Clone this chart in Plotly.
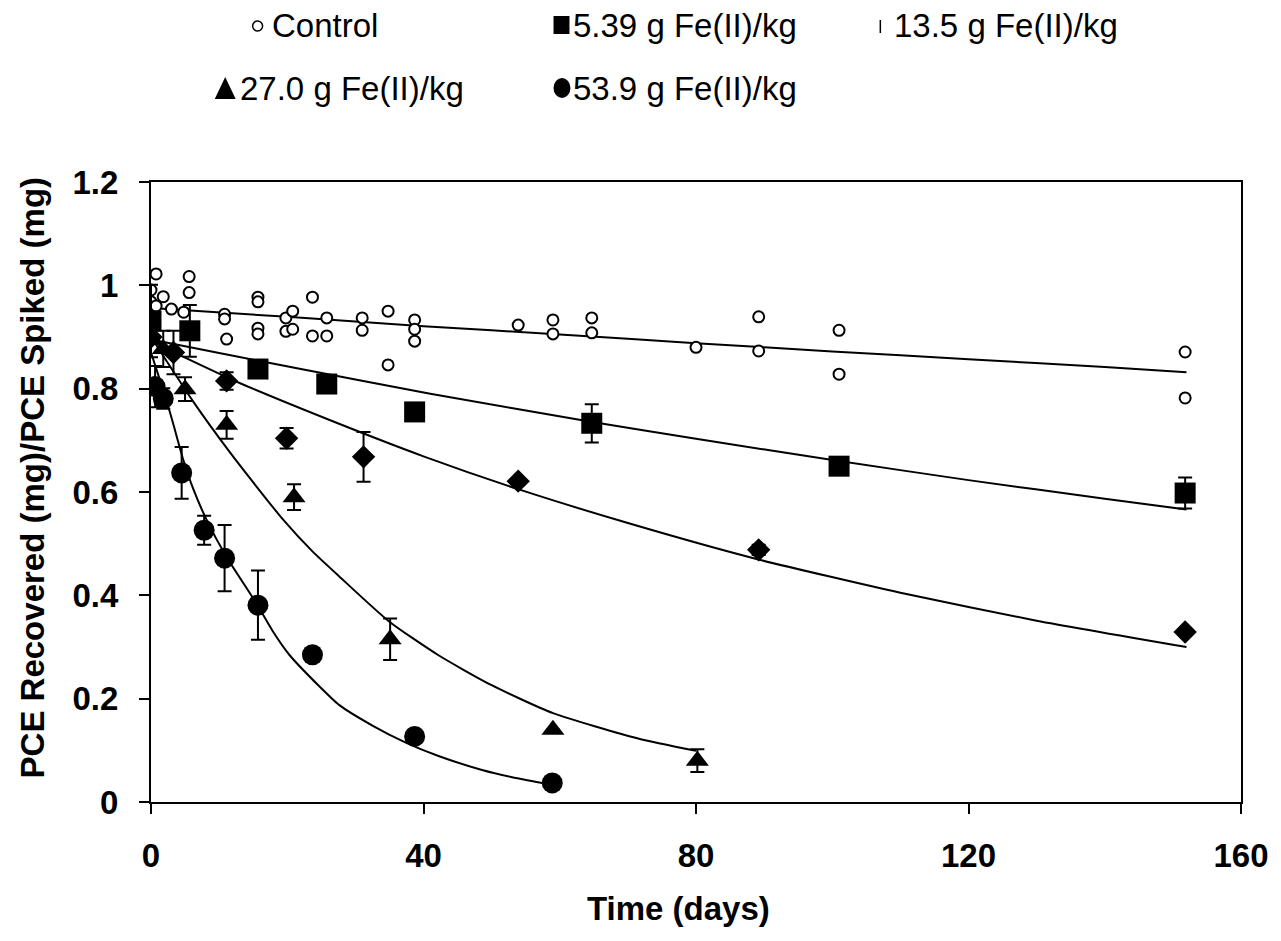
import plotly.graph_objects as go

# ---------------- data ----------------
ctrl_t = [0, 0, 0, 0.75, 0.75, 1.8, 3.0, 4.8, 5.6, 5.6, 10.8, 10.8, 11.1, 15.7, 15.7, 15.7, 15.7,
          19.8, 19.8, 20.8, 20.8, 23.7, 23.7, 25.8, 25.8, 31, 31, 34.8, 34.8, 38.7, 38.7, 38.7,
          53.9, 59, 59, 64.7, 64.7, 80, 89.2, 89.2, 101, 101, 151.8, 151.8]
ctrl_v = [0.991, 0.968, 0.958, 1.022, 0.960, 0.978, 0.954, 0.948, 1.017, 0.986, 0.944, 0.935, 0.896,
          0.977, 0.968, 0.917, 0.906, 0.937, 0.911, 0.950, 0.915, 0.977, 0.902, 0.937, 0.902,
          0.937, 0.913, 0.950, 0.846, 0.933, 0.915, 0.892, 0.923, 0.933, 0.906, 0.937, 0.908,
          0.880, 0.939, 0.873, 0.913, 0.828, 0.871, 0.782]

fe539_t = [0, 5.7, 15.7, 25.8, 38.7, 64.7, 101, 151.8]
fe539_v = [0.931, 0.912, 0.838, 0.809, 0.755, 0.733, 0.650, 0.598]
fe539_e = [0.07, 0.05, 0.012, 0.0, 0.0, 0.037, 0.0, 0.03]

fe135_t = [0, 3.3, 11.1, 19.9, 31.2, 53.9, 89.2, 151.8]
fe135_v = [0.90, 0.870, 0.815, 0.704, 0.668, 0.621, 0.488, 0.329]
fe135_e = [0.0, 0.042, 0.017, 0.02, 0.048, 0.0, 0.01, 0.0]

fe270_t = [0, 1.8, 5.0, 11.1, 21.0, 35.1, 59.0, 80.2]
fe270_v = [0.896, 0.877, 0.799, 0.730, 0.590, 0.315, 0.140, 0.080]
fe270_e = [0.0, 0.035, 0.023, 0.027, 0.025, 0.04, 0.0, 0.022]

fe539b_t = [0.6, 1.8, 4.5, 7.8, 10.8, 15.7, 23.7, 38.7, 58.9]
fe539b_v = [0.804, 0.781, 0.637, 0.526, 0.472, 0.381, 0.285, 0.127, 0.037]
fe539b_e = [0.04, 0.02, 0.05, 0.028, 0.064, 0.067, 0.0, 0.0, 0.0]

# fitted curves
fit_ctrl_t = [0, 20, 40, 60, 80, 100, 120, 140, 152]
fit_ctrl_v = [0.956, 0.939, 0.921, 0.905, 0.888, 0.872, 0.857, 0.842, 0.832]
fit_539_t = [0, 10, 22, 41, 65, 80, 101, 120, 140, 152]
fit_539_v = [0.895, 0.869, 0.838, 0.790, 0.735, 0.703, 0.660, 0.623, 0.587, 0.566]
fit_135_t = [0, 5, 13, 27.6, 40, 54, 70, 89, 110, 130, 152]
fit_135_v = [0.892, 0.860, 0.811, 0.732, 0.669, 0.605, 0.540, 0.470, 0.405, 0.351, 0.300]
fit_270_t = [0, 6.2, 11.4, 15.4, 19.3, 23.7, 27.6, 34.9, 42.2, 50, 59, 71.5, 80]
fit_270_v = [0.900, 0.775, 0.680, 0.612, 0.548, 0.485, 0.437, 0.350, 0.284, 0.226, 0.172, 0.123, 0.099]
fit_539b_t = [0, 2.2, 3.2, 4.7, 6.2, 8.1, 11, 15.4, 17.9, 20.3, 24.7, 27.6, 32.5, 37.4, 42.2, 48.6, 53, 59]
fit_539b_v = [0.870, 0.780, 0.735, 0.664, 0.606, 0.548, 0.476, 0.386, 0.330, 0.285, 0.224, 0.188,
              0.148, 0.115, 0.089, 0.062, 0.048, 0.033]

x_ticks = [0, 40, 80, 120, 160]
x_labels = ["0", "40", "80", "120", "160"]
y_ticks = [0, 0.2, 0.4, 0.6, 0.8, 1.0, 1.2]
y_labels = ["0", "0.2", "0.4", "0.6", "0.8", "1", "1.2"]

legend_labels = ["Control", "5.39 g Fe(II)/kg", "13.5 g Fe(II)/kg", "27.0 g Fe(II)/kg", "53.9 g Fe(II)/kg"]

# ---------------- layout geometry (pixels) ----------------
W, H = 1281, 941
PL, PR, PT, PB = 151, 1245, 182, 802
FONT = "Arial, Liberation Sans, sans-serif"


def px(x):
    return (x - PL) / (PR - PL)


def py(y):
    return (PB - y) / (PB - PT)


fig = go.Figure()

line_style = dict(color="black", width=2)
for t, v in [(fit_ctrl_t, fit_ctrl_v), (fit_539_t, fit_539_v), (fit_135_t, fit_135_v),
             (fit_270_t, fit_270_v), (fit_539b_t, fit_539b_v)]:
    fig.add_trace(go.Scatter(x=t, y=v, mode="lines", line=dict(shape="spline", smoothing=0.6, **line_style),
                             showlegend=False, hoverinfo="skip"))


def err(arr):
    return dict(type="data", array=arr, visible=True, color="black", thickness=2, width=7)


fig.add_trace(go.Scatter(x=ctrl_t, y=ctrl_v, mode="markers", name=legend_labels[0],
                         marker=dict(symbol="circle", size=11, color="white",
                                     line=dict(color="black", width=2))))
fig.add_trace(go.Scatter(x=fe539_t, y=fe539_v, mode="markers", name=legend_labels[1],
                         error_y=err(fe539_e),
                         marker=dict(symbol="square", size=21, color="black", line=dict(width=0))))
fig.add_trace(go.Scatter(x=fe135_t, y=fe135_v, mode="markers", name=legend_labels[2],
                         error_y=err(fe135_e),
                         marker=dict(symbol="diamond", size=18, color="black", line=dict(width=0))))
fig.add_trace(go.Scatter(x=fe270_t, y=fe270_v, mode="markers", name=legend_labels[3],
                         error_y=err(fe270_e),
                         marker=dict(symbol="triangle-up", size=20, color="black", line=dict(width=0))))
fig.add_trace(go.Scatter(x=fe539b_t, y=fe539b_v, mode="markers", name=legend_labels[4],
                         error_y=err(fe539b_e),
                         marker=dict(symbol="circle", size=21, color="black", line=dict(width=0))))

# ---------------- custom legend ----------------
shapes = []
annotations = []
LF = dict(family=FONT, size=33, color="black")

# Control marker (small open circle)
shapes.append(dict(type="circle", xref="paper", yref="paper",
                   x0=px(253), x1=px(263), y0=py(31), y1=py(21),
                   line=dict(color="black", width=1.5), fillcolor="white"))
# square
shapes.append(dict(type="rect", xref="paper", yref="paper",
                   x0=px(555), x1=px(571), y0=py(34), y1=py(16),
                   line=dict(width=0), fillcolor="black"))
# thin bar (as drawn in the reference legend)
shapes.append(dict(type="line", xref="paper", yref="paper",
                   x0=px(883), x1=px(883), y0=py(33), y1=py(20),
                   line=dict(color="black", width=1.5)))
# triangle
tx0, tx1, tb, tt = px(215), px(236), py(99), py(77)
shapes.append(dict(type="path", xref="paper", yref="paper",
                   path=f"M {tx0} {tb} L {tx1} {tb} L {(tx0 + tx1) / 2} {tt} Z",
                   line=dict(width=0), fillcolor="black"))
# filled circle
shapes.append(dict(type="circle", xref="paper", yref="paper",
                   x0=px(555), x1=px(572), y0=py(98), y1=py(78),
                   line=dict(width=0), fillcolor="black"))

legend_pos = [(270, 25), (573, 25), (895, 25), (238, 88), (573, 88)]
for lab, (lx, ly) in zip(legend_labels, legend_pos):
    annotations.append(dict(text=lab, xref="paper", yref="paper", x=px(lx), y=py(ly),
                            xanchor="left", yanchor="middle", showarrow=False, font=LF))

# axis titles
TF = dict(family=FONT, size=33, color="black", weight="bold")
annotations.append(dict(text="Time (days)", xref="paper", yref="paper", x=px(680), y=py(908),
                        xanchor="center", yanchor="middle", showarrow=False, font=TF))
annotations.append(dict(text="PCE Recovered (mg)/PCE Spiked (mg)", xref="paper", yref="paper",
                        x=px(32), y=py(478), xanchor="center", yanchor="middle", textangle=-90,
                        showarrow=False, font=TF))

tickfont = dict(family=FONT, size=33, color="black", weight="bold")
fig.update_layout(
    width=W, height=H,
    margin=dict(l=PL, r=W - PR, t=PT, b=H - PB, pad=0),
    paper_bgcolor="white", plot_bgcolor="white",
    showlegend=False,
    shapes=shapes, annotations=annotations,
    xaxis=dict(range=[0, 160], tickvals=x_ticks, ticktext=x_labels, ticks="outside", ticklen=10,
               tickwidth=2, tickcolor="black", showline=True, linecolor="black", linewidth=2,
               mirror=True, showgrid=False, zeroline=False, tickfont=tickfont,
               ticklabelstandoff=13),
    yaxis=dict(range=[0, 1.2], tickvals=y_ticks, ticktext=y_labels, ticks="outside", ticklen=10,
               tickwidth=2, tickcolor="black", showline=True, linecolor="black", linewidth=2,
               mirror=True, showgrid=False, zeroline=False, tickfont=tickfont,
               ticklabelstandoff=14),
)

fig.write_html("out.html")
